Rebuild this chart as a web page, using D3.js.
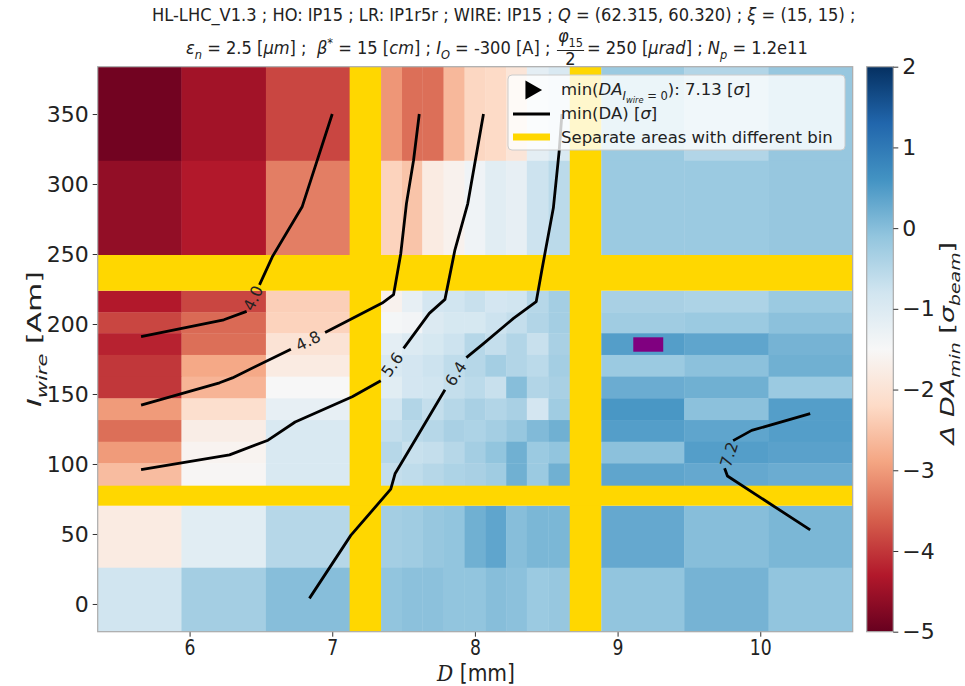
<!DOCTYPE html>
<html>
<head>
<meta charset="utf-8">
<script src="https://cdn.jsdelivr.net/npm/d3@7"></script>
<style>
body { margin: 0; background: #fff; }
svg text { font-family: "DejaVu Sans", sans-serif; fill: #222; white-space: pre; }
</style>
</head>
<body>
<script>
// ---- data ----
// D [mm] bin edges of the three column groups
var colEdgesA = [5.356, 5.943, 6.535, 7.122];
var colEdgesB = [7.342, 7.489, 7.631, 7.780, 7.927, 8.072, 8.219, 8.364, 8.515, 8.665];
var colEdgesC = [8.885, 9.467, 10.058, 10.648];

// I_wire [Am] rows, top to bottom, [upper, lower]
var rowsI = [
  [383.8, 316.6], [316.6, 249.3],
  [223.8, 208.4], [208.4, 193.4], [193.4, 177.9], [177.9, 162.4], [162.4, 146.9],
  [146.9, 131.4], [131.4, 115.9], [115.9, 100.5], [100.5, 84.5],
  [70.2, 25.9], [25.9, -19.8]
];

// Delta DA_min [sigma_beam], one row per entry of rowsI
var valuesA = [
  [-4.9, -4.45, -3.85],
  [-4.6, -4.3, -3.3],
  [-4.3, -3.85, -2.35],
  [-3.85, -3.5, -2.3],
  [-4.2, -3.45, -2.0],
  [-4.0, -2.85, -1.8],
  [-4.0, -2.7, -1.5],
  [-3.0, -2.1, -1.2],
  [-3.45, -1.75, -0.95],
  [-3.0, -1.6, -0.95],
  [-2.6, -1.55, -0.95],
  [-1.8, -1.1, -0.5],
  [-0.8, -0.3, 0.0]
];
var valuesB = [
  [-3.05, -3.45, -3.45, -2.65, -2.25, -2.2, -1.95, -1.15, -0.95],
  [-2.3, -2.5, -1.8, -1.65, -1.35, -1.1, -1.2, -0.75, -0.55],
  [-1.65, -1.2, -0.85, -0.8, -0.7, -0.85, -0.8, -0.5, -0.3],
  [-1.45, -1.4, -1.0, -0.9, -0.9, -0.75, -0.65, -0.45, -0.3],
  [-1.15, -1.0, -0.9, -0.75, -0.5, -0.65, -0.45, -0.7, -0.35],
  [-0.95, -0.85, -0.75, -0.6, -0.5, -0.3, -0.45, -0.55, -0.3],
  [-1.1, -0.85, -0.8, -0.65, -0.55, -0.7, 0.0, -0.45, -0.35],
  [-0.8, -0.45, -0.65, -0.5, -0.35, -0.45, -0.35, -0.85, -0.25],
  [-0.65, -0.55, -0.5, -0.35, -0.4, -0.3, -0.15, 0.05, 0.2],
  [-0.5, -0.7, -0.65, -0.5, -0.3, -0.1, 0.2, -0.2, -0.1],
  [-0.65, -0.6, -0.5, -0.4, -0.35, -0.25, 0.2, -0.2, 0.2],
  [-0.3, -0.25, -0.15, -0.1, 0.2, 0.35, 0.0, 0.1, 0.1],
  [-0.1, -0.05, -0.05, -0.1, -0.1, 0.0, -0.05, -0.2, -0.15]
];
var valuesC = [
  [-0.2, -0.45, -0.15],
  [-0.2, -0.2, -0.15],
  [-0.35, -0.4, -0.2],
  [-0.25, -0.2, -0.05],
  [0.45, 0.35, 0.15],
  [-0.2, -0.05, 0.2],
  [0.25, 0.2, -0.2],
  [0.55, -0.05, 0.45],
  [0.45, 0.35, 0.45],
  [-0.05, 0.45, 0.4],
  [0.35, 0.3, 0.25],
  [0.3, 0.0, 0.1],
  [-0.1, 0.15, -0.1]
];

// yellow separators between bin areas
var bandsD = [[7.122, 7.342], [8.665, 8.885]];
var bandsI = [[70.2, 84.5], [223.8, 249.3]];

// highlighted cell [D0, D1, I0, I1]
var markCell = [9.11, 9.32, 180.2, 190.5];

// min(DA) contours: [D, I] points, split where the inline label sits
var contourLevels = ["4.0", "4.8", "5.6", "6.4", "7.2"];
var contourLow = [
  [[5.66, 191], [6.24, 203], [6.40, 209]],
  [[5.66, 142], [6.21, 158], [6.30, 161.5], [6.71, 182]],
  [[5.66, 96], [6.28, 106.5], [6.55, 117], [6.74, 130], [7.14, 148], [7.34, 159.5]],
  [[6.84, 4], [7.13, 49], [7.41, 82], [7.44, 93], [7.58, 117], [7.79, 153]],
  [[10.35, 136], [9.94, 124], [9.81, 116.7]]
];
var contourHigh = [
  [[6.49, 228], [6.58, 248], [6.79, 284], [7.0, 350]],
  [[6.95, 194], [7.35, 215], [7.43, 221], [7.48, 250], [7.52, 286], [7.57, 317], [7.61, 350]],
  [[7.50, 182.6], [7.68, 207.6], [7.79, 217.6], [7.86, 253], [7.95, 286], [8.06, 350]],
  [[7.94, 176], [8.06, 186], [8.27, 204], [8.43, 216], [8.47, 239], [8.55, 283], [8.59, 323], [8.61, 350]],
  [[9.75, 97], [9.77, 91.4], [10.35, 52.9]]
];

var xTicks = [6, 7, 8, 9, 10];
var yTicks = [0, 50, 100, 150, 200, 250, 300, 350];
var cbTicks = [-5, -4, -3, -2, -1, 0, 1, 2];
var vmin = -5, vmax = 2;

// matplotlib RdBu
var rdbu = ["#67001f", "#b2182b", "#d6604d", "#f4a582", "#fddbc7", "#f7f7f7",
            "#d1e5f0", "#92c5de", "#4393c3", "#2166ac", "#053061"];

// ---- layout ----
var W = 965, H = 686;
var plot = {left: 97.7, right: 852.7, top: 66.7, bottom: 631.7};
var cb = {left: 866.7, width: 26.6};

var svg = d3.select("body").append("svg")
    .attr("width", W)
    .attr("height", H);

var x = d3.scaleLinear().domain([5.356, 10.648]).range([plot.left, plot.right]);
var y = d3.scaleLinear().domain([-19.8, 383.8]).range([plot.bottom, plot.top]);
var color = d3.scaleLinear()
    .domain(rdbu.map(function (c, i) { return vmin + (vmax - vmin) * i / 10; }))
    .range(rdbu)
    .clamp(true);

// rich text helper: parts = [{t, it, sub, subsub, sup}]
function rich(textSel, parts, fs) {
  var shift = 0;
  parts.forEach(function (p) {
    var ts = textSel.append("tspan").text(p.t);
    var target = p.subsub ? fs * 0.5 : p.sub ? fs * 0.28 : p.sup ? -fs * 0.42 : 0;
    if (target !== shift) { ts.attr("dy", target - shift); shift = target; }
    if (p.subsub) ts.style("font-size", (fs * 0.5) + "px");
    else if (p.sub || p.sup) ts.style("font-size", (fs * 0.7) + "px");
    if (p.it) ts.style("font-style", "italic");
  });
  return textSel;
}

// ---- title (two lines) ----
function fitLine(g, left, right) {
  var bb = g.node().getBBox();
  var s = (right - left) / bb.width;
  g.attr("transform", "translate(" + (left - bb.x * s) + ",0) scale(" + s + ",1)");
}
var tfs = 17;
var t1 = svg.append("g");
rich(t1.append("text").attr("y", 21).style("font-size", tfs + "px"), [
  {t: "HL-LHC_V1.3 ; HO: IP15 ; LR: IP1r5r ; WIRE: IP15 ; "},
  {t: "Q", it: true}, {t: " = (62.315, 60.320) ; "},
  {t: "ξ", it: true}, {t: " = (15, 15) ;"}
], tfs);
fitLine(t1, 152, 856);

var t2 = svg.append("g");
var base2 = 54;
var partA = rich(t2.append("text").attr("y", base2).style("font-size", tfs + "px"), [
  {t: "ε", it: true}, {t: "n", it: true, sub: true}, {t: " = 2.5 ["}, {t: "μm", it: true}, {t: "] ;  "},
  {t: "β", it: true}, {t: "*", sup: true}, {t: " = 15 ["}, {t: "cm", it: true}, {t: "] ; "},
  {t: "I", it: true}, {t: "O", it: true, sub: true}, {t: " = -300 [A] ; "}
], tfs);
var wA = partA.node().getComputedTextLength();
var num = rich(t2.append("text").attr("x", wA + 2).attr("y", base2 - 12).style("font-size", tfs + "px"), [
  {t: "φ", it: true}, {t: "15", sub: true}
], tfs);
var wNum = num.node().getComputedTextLength();
t2.append("line").attr("x1", wA + 1).attr("x2", wA + wNum + 3)
    .attr("y1", base2 - 3.5).attr("y2", base2 - 3.5).attr("stroke", "#222").attr("stroke-width", 1);
t2.append("text").attr("x", wA + 2 + wNum / 2).attr("y", base2 + 11).attr("text-anchor", "middle")
    .style("font-size", tfs + "px").text("2");
rich(t2.append("text").attr("x", wA + wNum + 6).attr("y", base2).style("font-size", tfs + "px"), [
  {t: "= 250 ["}, {t: "μrad", it: true}, {t: "] ; "},
  {t: "N", it: true}, {t: "p", it: true, sub: true}, {t: " = 1.2e11"}
], tfs);
fitLine(t2, 186, 808);

// ---- heatmap ----
svg.append("clipPath").attr("id", "clip").append("rect")
    .attr("x", plot.left).attr("y", plot.top)
    .attr("width", plot.right - plot.left).attr("height", plot.bottom - plot.top);
svg.append("rect")
    .attr("x", plot.left).attr("y", plot.top)
    .attr("width", plot.right - plot.left).attr("height", plot.bottom - plot.top)
    .attr("fill", "#fff");
var gPlot = svg.append("g").attr("clip-path", "url(#clip)");

[[colEdgesA, valuesA], [colEdgesB, valuesB], [colEdgesC, valuesC]].forEach(function (blk) {
  var edges = blk[0], vals = blk[1];
  var cells = [];
  vals.forEach(function (row, r) {
    row.forEach(function (v, c) {
      cells.push({d0: edges[c], d1: edges[c + 1], i1: rowsI[r][0], i0: rowsI[r][1], v: v});
    });
  });
  gPlot.append("g").selectAll("rect").data(cells).join("rect")
      .attr("x", function (d) { return x(d.d0); })
      .attr("y", function (d) { return y(d.i1); })
      .attr("width", function (d) { return x(d.d1) - x(d.d0) + 0.4; })
      .attr("height", function (d) { return y(d.i0) - y(d.i1) + 0.4; })
      .attr("fill", function (d) { return color(d.v); });
});

gPlot.selectAll("rect.bandD").data(bandsD).join("rect").attr("class", "bandD")
    .attr("x", function (d) { return x(d[0]); })
    .attr("width", function (d) { return x(d[1]) - x(d[0]); })
    .attr("y", plot.top).attr("height", plot.bottom - plot.top)
    .attr("fill", "#ffd700");
gPlot.selectAll("rect.bandI").data(bandsI).join("rect").attr("class", "bandI")
    .attr("y", function (d) { return y(d[1]); })
    .attr("height", function (d) { return y(d[0]) - y(d[1]); })
    .attr("x", plot.left).attr("width", plot.right - plot.left)
    .attr("fill", "#ffd700");

gPlot.append("rect")
    .attr("x", x(markCell[0])).attr("width", x(markCell[1]) - x(markCell[0]))
    .attr("y", y(markCell[3])).attr("height", y(markCell[2]) - y(markCell[3]))
    .attr("fill", "#800080");

// ---- contours with inline labels ----
var line = d3.line().x(function (d) { return x(d[0]); }).y(function (d) { return y(d[1]); });
contourLevels.forEach(function (lvl, k) {
  [contourLow[k], contourHigh[k]].forEach(function (seg) {
    gPlot.append("path").attr("d", line(seg))
        .attr("fill", "none").attr("stroke", "#000")
        .attr("stroke-width", 2.8).attr("stroke-linejoin", "round");
  });
  var p1 = contourLow[k][contourLow[k].length - 1], p2 = contourHigh[k][0];
  var ax = x(p1[0]), ay = y(p1[1]), bx = x(p2[0]), by = y(p2[1]);
  var ang = Math.atan2(by - ay, bx - ax) * 180 / Math.PI;
  if (ang > 90) ang -= 180;
  if (ang < -90) ang += 180;
  gPlot.append("text")
      .attr("transform", "translate(" + ((ax + bx) / 2) + "," + ((ay + by) / 2) + ") rotate(" + ang + ")")
      .attr("text-anchor", "middle").attr("dy", "0.36em")
      .style("font-size", "16px").style("fill", "#222")
      .text(lvl);
});

// ---- axes ----
var gx = svg.append("g").attr("transform", "translate(0," + plot.bottom + ")")
    .call(d3.axisBottom(x).tickValues(xTicks).tickSize(5).tickPadding(3).tickFormat(d3.format("d")));
gx.select(".domain").remove();
gx.selectAll("line").attr("stroke", "#333");
gx.selectAll("text").style("font-size", "21px").style("fill", "#222").attr("transform", "scale(0.82,1)");

var gy = svg.append("g").attr("transform", "translate(" + plot.left + ",0)")
    .call(d3.axisLeft(y).tickValues(yTicks).tickSize(5).tickPadding(4));
gy.select(".domain").remove();
gy.selectAll("line").attr("stroke", "#333");
gy.selectAll("text").style("font-size", "22px").style("fill", "#222");

svg.append("rect")
    .attr("x", plot.left).attr("y", plot.top)
    .attr("width", plot.right - plot.left).attr("height", plot.bottom - plot.top)
    .attr("fill", "none").attr("stroke", "#aaa").attr("stroke-width", 1.2);

// axis labels
var xl = svg.append("text").attr("text-anchor", "middle")
    .attr("transform", "translate(476,681) scale(0.88,1)")
    .style("font-size", "23px");
xl.append("tspan").style("font-family", "'DejaVu Serif', serif").style("font-style", "italic").text("D");
xl.append("tspan").text(" [mm]");

rich(svg.append("text")
    .attr("transform", "translate(34," + 339 + ") rotate(-90) scale(1.5,1)")
    .attr("text-anchor", "middle").attr("dy", "0.35em").style("font-size", "20px"), [
  {t: "I", it: true}, {t: "wire", it: true, sub: true}, {t: " [Am]"}
], 20);

// ---- legend ----
var lg = svg.append("g");
lg.append("rect").attr("x", 508).attr("y", 75).attr("width", 337).attr("height", 75).attr("rx", 4)
    .attr("fill", "#fff").attr("fill-opacity", 0.8).attr("stroke", "#ccc");
lg.append("path").attr("d", d3.symbol(d3.symbolTriangle, 160)())
    .attr("transform", "translate(531,90) rotate(90)").attr("fill", "#000");
lg.append("line").attr("x1", 513).attr("x2", 550).attr("y1", 114).attr("y2", 114)
    .attr("stroke", "#000").attr("stroke-width", 2.8);
lg.append("line").attr("x1", 513).attr("x2", 550).attr("y1", 137).attr("y2", 137)
    .attr("stroke", "#ffd700").attr("stroke-width", 7);
var lfs = 16.5;
rich(lg.append("text").attr("x", 561).attr("y", 95).style("font-size", lfs + "px"), [
  {t: "min("}, {t: "DA", it: true}, {t: "I", it: true, sub: true}, {t: "wire", it: true, subsub: true},
  {t: " = 0", sub: true}, {t: "): 7.13 ["}, {t: "σ", it: true}, {t: "]"}
], lfs);
rich(lg.append("text").attr("x", 561).attr("y", 119).style("font-size", lfs + "px"), [
  {t: "min(DA) ["}, {t: "σ", it: true}, {t: "]"}
], lfs);
lg.append("text").attr("x", 561).attr("y", 143).style("font-size", lfs + "px")
    .text("Separate areas with different bin");

// ---- colorbar ----
var grad = svg.append("defs").append("linearGradient").attr("id", "cbgrad")
    .attr("x1", 0).attr("x2", 0).attr("y1", 1).attr("y2", 0);
rdbu.forEach(function (c, i) {
  grad.append("stop").attr("offset", (i * 10) + "%").attr("stop-color", c);
});
svg.append("rect").attr("x", cb.left).attr("y", plot.top)
    .attr("width", cb.width).attr("height", plot.bottom - plot.top)
    .attr("fill", "url(#cbgrad)").attr("stroke", "#aaa").attr("stroke-width", 1.2);
var cbY = d3.scaleLinear().domain([vmin, vmax]).range([plot.bottom, plot.top]);
var gc = svg.append("g").attr("transform", "translate(" + (cb.left + cb.width) + ",0)")
    .call(d3.axisRight(cbY).tickValues(cbTicks).tickSize(5).tickPadding(4).tickFormat(d3.format("d")));
gc.select(".domain").remove();
gc.selectAll("line").attr("stroke", "#333");
gc.selectAll("text").style("font-size", "22px").style("fill", "#222");

rich(svg.append("text")
    .attr("transform", "translate(947,343) rotate(-90) scale(1.35,1)")
    .attr("text-anchor", "middle").attr("dy", "0.35em").style("font-size", "20px"), [
  {t: "Δ DA", it: true}, {t: "min", it: true, sub: true}, {t: " ["}, {t: "σ", it: true},
  {t: "beam", it: true, sub: true}, {t: "]"}
], 20);
</script>
</body>
</html>
